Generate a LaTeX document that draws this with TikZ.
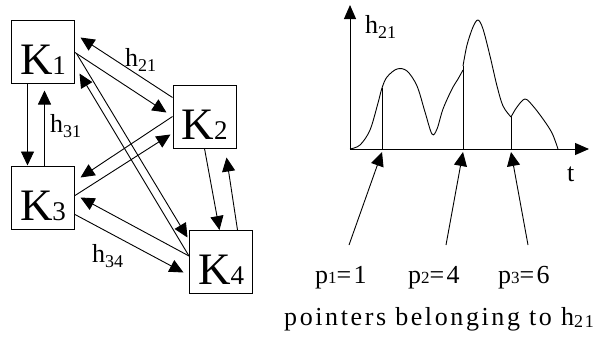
\documentclass[tikz,border=0pt]{standalone}
\usepackage{fontspec}
\setmainfont{Liberation Serif}
\usetikzlibrary{arrows.meta,calc}
\newcommand\Ksub[1]{K{\fontsize{27}{27}\selectfont #1}}
\newcommand\hlab[1]{h\raisebox{-5pt}{\fontsize{18}{18}\selectfont #1}}
\newcommand\plab[2]{p{\fontsize{17}{17}\selectfont #1}=#2}
\begin{document}
\begin{tikzpicture}[x=1pt,y=-1pt,
  kbox/.style={draw,line width=1pt,minimum width=63pt,minimum height=63pt,inner sep=0pt,
    font=\fontsize{45}{45}\selectfont},
  conn/.style={line width=0.9pt,-{Triangle[length=14pt,width=13pt]}},
  lab/.style={inner sep=0pt,anchor=base west,font=\fontsize{26}{26}\selectfont},
  spaced/.style={lab,font=\fontsize{26}{26}\selectfont\addfontfeature{LetterSpace=9}},
  wide/.style={lab,font=\fontsize{26}{26}\selectfont\addfontfeature{LetterSpace=10}},
  curve/.style={line width=0.9pt}]
\useasboundingbox (0,0) rectangle (593,338);
% boxes
\node[kbox] (K1) at (43,51.5) {\raisebox{-8pt}[\height][\depth]{\Ksub{1}}};
\node[kbox] (K2) at (204.5,116.5) {\raisebox{-8pt}[\height][\depth]{\Ksub{2}}};
\node[kbox] (K3) at (43,197.5) {\raisebox{-8pt}[\height][\depth]{\Ksub{3}}};
\node[kbox] (K4) at (221,262) {\raisebox{-8pt}[\height][\depth]{\Ksub{4}}};
% connectors
\draw[conn] ($(K1.south west)+(16.5,0)$) -- ($(K3.north west)+(16.5,0)$);
\draw[conn] ($(K3.north west)+(33.5,0)$) -- ($(K1.south west)+(33.5,7)$);
\draw[conn] ($(K1.north east)+(0,33)$) -- ($(K2.north west)+(-6,28)$);
\draw[conn] ($(K2.north west)+(0,13)$) -- ($(K1.north east)+(5.5,18)$);
\draw[conn] ($(K2.north west)+(0,32)$) -- ($(K3.north east)+(5.5,12)$);
\draw[conn] ($(K3.north east)+(0,30)$) -- ($(K2.north west)+(-2,50)$);
\draw[conn] ($(K1.north east)+(1.5,34)$) -- ($(K4.north west)+(-1.5,7.5)$);
\draw[conn] ($(K4.north west)+(0,26)$) -- ($(K1.north east)+(4.5,54)$);
\draw[conn] ($(K2.south west)+(32,0)$) -- ($(K4.north west)+(30.5,0)$);
\draw[conn] ($(K4.north west)+(48.5,0)$) -- ($(K2.south west)+(54,9)$);
\draw[conn] ($(K4.north west)+(0,26)$) -- ($(K3.north east)+(5.5,32)$);
\draw[conn] ($(K3.north east)+(0,49)$) -- ($(K4.north west)+(-5.5,42.5)$);
% labels of left diagram
\node[lab] (h21a) at (125,66) {\hlab{21}};
\node[lab] (h31) at (50,132) {\hlab{31}};
\node[lab] (h34) at (92,262) {\hlab{34}};
% chart
\coordinate (O) at (350,149);
\coordinate (Ytip) at (350,5);
\coordinate (Xtip) at (589,149);
\draw[line width=1pt,-{Triangle[length=14pt,width=12pt]}] (O) -- (Ytip);
\draw[line width=1pt,-{Triangle[length=14pt,width=12pt]}] (O) -- (Xtip);
\node[lab] (h21b) at (365,33) {\hlab{21}};
\node[lab] (t) at (567,181) {t};
\draw[curve] plot[smooth,tension=0.55] coordinates {
 (350,149) (360,145) (370,130) (378,103) (382,88) (387,77) (397,69) (407,71)
 (417,86) (425,112) (432,134) (437,129) (443,109) (452,89) (458,79) (463,70)};
\draw[curve] plot[smooth,tension=0.55] coordinates {
 (463,66) (467,45) (473,27) (478,20) (483,29) (490,56) (497,86) (503,106) (511,117)};
\draw[curve] plot[smooth,tension=0.55] coordinates {
 (511,117) (517,107) (525,99) (533,106) (543,119) (552,133) (558,149)};
\draw[line width=1pt] (382,149) -- (382,88);
\draw[line width=1pt] (463,149) -- (463,66);
\draw[line width=1pt] (511,149) -- (511,117);
% pointer labels
\node[spaced] (p1) at (315,283) {\plab{1}{1}};
\node[spaced] (p2) at (408,283) {\plab{2}{4}};
\node[spaced] (p3) at (498,283) {\plab{3}{6}};
\coordinate (a1) at (349,245);
\coordinate (a2) at (446,245);
\coordinate (a3) at (528,245);
\coordinate (b1) at (382,152);
\coordinate (b2) at (463,152);
\coordinate (b3) at (511,152);
\draw[conn] (a1) -- (b1);
\draw[conn] (a2) -- (b2);
\draw[conn] (a3) -- (b3);
\node[wide] (ptr) at (284,325) {pointers belonging to h\raisebox{-2pt}{\fontsize{18}{18}\selectfont 21}};
\end{tikzpicture}
\end{document}
